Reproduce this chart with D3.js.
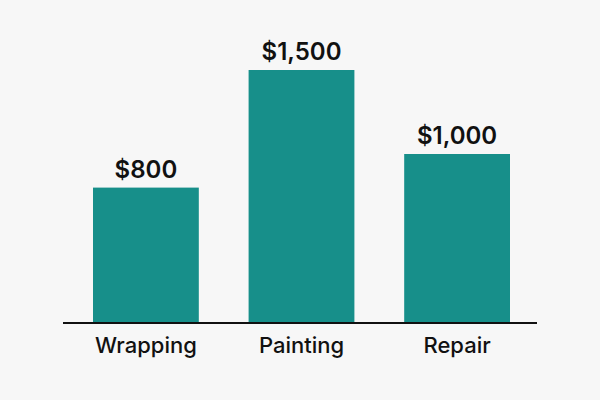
<!DOCTYPE html>
<html>
<head>
<meta charset="utf-8">
<script src="https://cdn.jsdelivr.net/npm/d3@7"></script>
<style>
  html, body { margin: 0; padding: 0; background: #f7f7f7; }
  svg { display: block; }
</style>
</head>
<body>
<svg id="chart"></svg>
<script>
// Chart data
const categories = ["Wrapping", "Painting", "Repair"];
const costs = [800, 1500, 1000];
const valueLabels = ["$800", "$1,500", "$1,000"];

const W = 600;
const H = 400;
const baseY = 322;

const palette = {
  bg: "#f7f7f7",
  bar: "#178f8a",
  ink: "#111111"
};

const svg = d3.select("#chart")
  .attr("width", W)
  .attr("height", H)
  .style("background", palette.bg);

const x = d3.scaleBand()
  .domain(categories)
  .range([65, 538])
  .paddingInner(0.32)
  .paddingOuter(0.18);

const y = d3.scaleLinear()
  .domain([0, 1500])
  .range([baseY, 70]);

const rows = categories.map((c, i) => ({ cat: c, value: costs[i], label: valueLabels[i] }));

// bars
svg.selectAll(".bar")
  .data(rows)
  .join("rect")
    .attr("class", "bar")
    .attr("x", d => x(d.cat))
    .attr("width", x.bandwidth())
    .attr("y", d => y(d.value))
    .attr("height", d => y(0) - y(d.value))
    .attr("fill", palette.bar);

// baseline
svg.append("line")
  .attr("x1", 63)
  .attr("x2", 537)
  .attr("y1", y(0) + 1)
  .attr("y2", y(0) + 1)
  .attr("stroke", palette.ink)
  .attr("stroke-width", 2);

// value labels
svg.selectAll(".value")
  .data(rows)
  .join("text")
    .attr("class", "value")
    .attr("x", d => x(d.cat) + x.bandwidth() / 2)
    .attr("y", d => y(d.value) - 10)
    .attr("text-anchor", "middle")
    .attr("fill", palette.ink)
    .style("font-family", "Inter, 'Noto Sans', sans-serif")
    .style("font-weight", 600)
    .style("font-size", "24px")
    .text(d => d.label);

// category labels
svg.selectAll(".cat")
  .data(rows)
  .join("text")
    .attr("class", "cat")
    .attr("x", d => x(d.cat) + x.bandwidth() / 2)
    .attr("y", baseY + 31)
    .attr("text-anchor", "middle")
    .attr("fill", palette.ink)
    .style("font-family", "Inter, 'Noto Sans', sans-serif")
    .style("font-weight", 500)
    .style("font-size", "22px")
    .text(d => d.cat);
</script>
</body>
</html>
